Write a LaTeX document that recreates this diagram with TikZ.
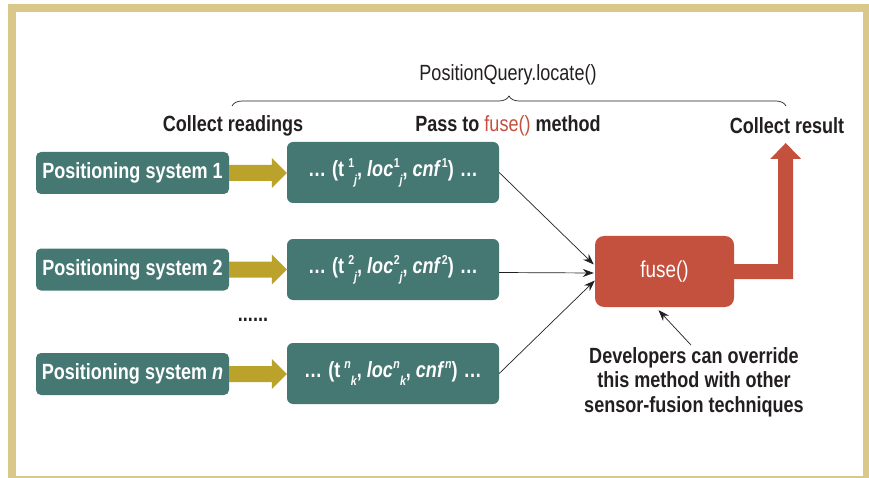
\documentclass[tikz,border=0pt]{standalone}
\usepackage{fontspec}
\setmainfont{Liberation Sans}[FakeStretch=0.82]
\usetikzlibrary{decorations.pathreplacing,arrows.meta,calc}
\definecolor{tealc}{HTML}{467873}
\definecolor{goldc}{HTML}{BBA22A}
\definecolor{redc}{HTML}{C4503E}
\definecolor{tanc}{HTML}{D9C88A}
\definecolor{inkc}{HTML}{231F20}
\newcommand{\supsub}[2]{\kern0.5pt\raisebox{0.42em}{\fontsize{13}{13}\selectfont #1}\raisebox{-0.36em}{\fontsize{13}{13}\selectfont\itshape #2}}
\newcommand{\supon}[1]{\kern2.2pt\raisebox{0.42em}{\fontsize{13}{13}\selectfont #1}}
\begin{document}
\begin{tikzpicture}[x=1pt,y=-1pt,
  sysbox/.style={fill=tealc, rounded corners=5pt, text=white, inner sep=0pt,
    font=\bfseries\fontsize{22}{26}\selectfont, minimum width=193pt, minimum height=42pt},
  rdbox/.style={fill=tealc, rounded corners=6pt, text=white, inner sep=0pt,
    font=\bfseries\fontsize{22}{26}\selectfont, minimum width=212pt, minimum height=61pt},
  fusebox/.style={fill=redc, rounded corners=9pt, text=white, inner sep=0pt,
    font=\fontsize{23}{26}\selectfont, minimum width=139pt, minimum height=71pt},
  lbl/.style={text=inkc, inner sep=0pt, font=\bfseries\fontsize{22}{26}\selectfont},
  conn/.style={draw=inkc, line width=0.7pt, -{Stealth[length=11pt,width=8pt]}}
]
\useasboundingbox (0,0) rectangle (869,478);
\draw[tanc, line width=8pt] (12,8) rectangle (867,480);

% header
\node[text=inkc, inner sep=0pt, font=\fontsize{22}{26}\selectfont] (pq) at (508,75) {PositionQuery.locate()};
\draw[inkc, line width=0.7pt, decorate, decoration={brace, amplitude=10pt}] (232,106) -- (786,106);
\node[lbl] (cread) at (233,126) {Collect readings};
\node[lbl] (pass) at (508,126) {Pass to {\mdseries\color{redc}fuse()} method};
\node[lbl] (cres) at (787,126) {Collect result};

% positioning systems
\node[sysbox] (ps1) at (132.5,173) {Positioning system 1};
\node[sysbox] (ps2) at (132.5,269.5) {Positioning system 2};
\node[sysbox] (psn) at (132.5,374) {Positioning system {\itshape n}};

% readings
\node[rdbox] (r1) at (393,172.5) {…\kern1pt\ (t\,\supsub{1}{j}, {\itshape loc}\supsub{1}{j}, {\itshape cnf}\supon{1}) \kern1pt…};
\node[rdbox] (r2) at (393,269.5) {…\kern1pt\ (t\,\supsub{2}{j}, {\itshape loc}\supsub{2}{j}, {\itshape cnf}\supon{2}) \kern1pt…};
\node[rdbox] (rn) at (393,373.5) {…\kern1pt\ (t\,\supsub{\itshape n}{k}, {\itshape loc}\supsub{\itshape n}{k}, {\itshape cnf}\supon{\itshape n}) \kern1pt…};

\node[lbl] (dots) at (253,320) {......};

% gold arrows
\foreach \a/\b in {ps1/r1,ps2/r2,psn/rn}{
  \fill[goldc] ($(\a.east)+(0,-8)$) -- ($(\b.west |- \a.east)+(-15,-8)$) -- ($(\b.west |- \a.east)+(-15,-15)$)
    -- (\b.west |- \a.east) -- ($(\b.west |- \a.east)+(-15,15)$) -- ($(\b.west |- \a.east)+(-15,8)$)
    -- ($(\a.east)+(0,8)$) -- cycle;
}

% fuse
\node[fusebox] (fuse) at (664.5,271.5) {fuse()};
\draw[conn] (r1.east) -- ($(fuse.west)+(-1,-7)$);
\draw[conn] ($(r2.east)+(0,3)$) -- ($(fuse.west)+(-1,1.5)$);
\draw[conn] (rn.east) -- ($(fuse.west)+(0,9)$);

% result arrow
\fill[redc] ($(fuse.east)+(0,-7.5)$) -- ++(44,0) -- ++(0,-105) -- ++(-8,0) -- ++(15.5,-16)
  -- ++(15.5,16) -- ++(-8,0) -- ++(0,120) -- ($(fuse.east)+(0,7.5)$) -- cycle;

% annotation
\node[lbl, align=center, font=\bfseries\fontsize{22}{24.5}\selectfont] (dev) at (694,382)
  {Developers can override\\this method with other\\sensor-fusion techniques};
\draw[conn] ($(dev.north)+(-3,-2)$) -- ($(fuse.south)+(-6,3)$);
\end{tikzpicture}
\end{document}
